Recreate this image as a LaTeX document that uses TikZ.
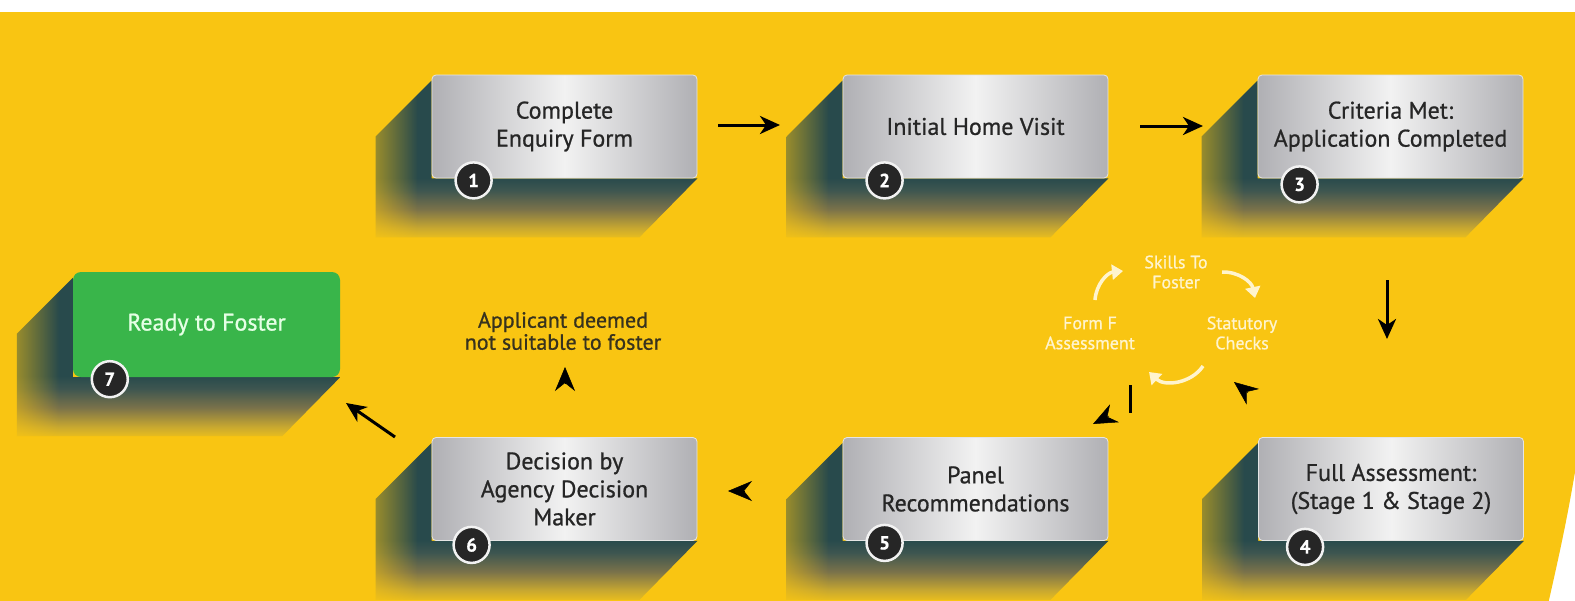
\documentclass[tikz,border=0pt]{standalone}
\usepackage{fontspec}
\setmainfont{PT Sans}[FakeBold=0.8]
\usetikzlibrary{arrows.meta,calc,fadings}
\definecolor{bgY}{RGB}{249,197,18}
\definecolor{shD}{RGB}{40,74,76}
\definecolor{shA}{RGB}{62,86,80}
\definecolor{shB}{RGB}{122,114,74}
\definecolor{shC}{RGB}{200,168,48}
\definecolor{shY}{RGB}{232,189,30}
\definecolor{boxedge}{RGB}{176,176,180}
\definecolor{boxmid}{RGB}{242,242,242}
\definecolor{greenbox}{RGB}{57,181,74}
\definecolor{txt}{RGB}{38,38,38}
\definecolor{cyc}{RGB}{255,244,205}
\definecolor{note}{RGB}{55,50,30}
\pgfdeclareverticalshading{shadowv}{100bp}{color(0bp)=(shY); color(25bp)=(shY); color(28bp)=(shC); color(34bp)=(shB); color(40bp)=(shA); color(44bp)=(shD); color(100bp)=(shD)}
\tikzfading[name=shfade, left color=transparent!45, right color=transparent!100]
\pgfdeclarelayer{back}
\pgfdeclarelayer{shad}
\pgfsetlayers{back,shad,main}
\newcommand\longshadow[1]{%
  \begin{pgfonlayer}{shad}
    \path (#1.north west) coordinate (#1nw) (#1.south east) coordinate (#1se) (#1.south west) coordinate (#1sw);
    \shade[shading=shadowv] ($(#1nw)+(0,6)$) -- ($(#1nw)+(-56,62)$) -- ($(#1sw)+(-56,59)$) -- ($(#1se)+(-58,59)$) -- (#1se) -- (#1sw) -- cycle;
    \fill[bgY, path fading=shfade] ($(#1nw)+(-57,0)$) rectangle ($(#1sw)+(-14,60)$);
  \end{pgfonlayer}}
\tikzset{
  graybox/.style={rectangle, rounded corners=4pt, minimum width=265pt, minimum height=103pt,
    left color=boxedge, right color=boxedge, middle color=boxmid, draw=white!80!gray, line width=0.8pt,
    align=center, text=txt, font=\fontsize{24}{28}\selectfont, inner sep=0pt},
  greenstep/.style={rectangle, rounded corners=8pt, minimum width=267pt, minimum height=105pt,
    fill=greenbox, align=center, text=white!90!green, font=\fontsize{24}{28}\selectfont, inner sep=0pt},
  badge/.style={circle, fill=black!85, draw=white!90!gray, line width=2.5pt, minimum size=36pt,
    inner sep=0pt, text=white, font=\fontsize{19}{19}\selectfont\bfseries},
  conn/.style={line width=3pt, black, -{Stealth[length=20pt,width=18pt,inset=6pt]}},
  headonly/.style={line width=0.5pt, black, -{Stealth[length=24pt,width=20pt,inset=8pt]}},
  cycarrow/.style={line width=3.5pt, cyc, -{Triangle[length=11pt,width=15pt]}},
  cyctext/.style={text=cyc, align=center, font=\fontsize{18}{20}\selectfont},
  notetext/.style={text=note, align=center, font=\fontsize{22}{22}\selectfont}
}
\begin{document}
\begin{tikzpicture}[x=1pt,y=-1pt]
\useasboundingbox (0,0) rectangle (1575,600);
\begin{pgfonlayer}{back}
  \fill[white] (-5,-5) rectangle (1580,605);
  \fill[bgY] (-5,12) -- (1590,12) -- (1590,440) -- (1575,472) .. controls (1566,525) and (1558,560) .. (1549,600) -- (1546,610) -- (-5,610) -- cycle;
\end{pgfonlayer}

% step boxes
\node[graybox] (b1) at (564.5,126.5) {Complete\\Enquiry Form};
\node[graybox] (b2) at (975.5,126.5) {Initial Home Visit};
\node[graybox] (b3) at (1390.5,126.5) {Criteria Met:\\Application Completed};
\node[graybox] (b4) at (1391,489) {Full Assessment:\\(Stage 1 \& Stage 2)};
\node[graybox] (b5) at (975.5,489) {Panel\\Recommendations};
\node[graybox] (b6) at (564.5,489) {Decision by\\Agency Decision\\Maker};
\node[greenstep] (b7) at (206.5,324.5) {Ready to Foster};

\longshadow{b1}\longshadow{b2}\longshadow{b3}\longshadow{b4}
\longshadow{b5}\longshadow{b6}\longshadow{b7}

% number badges
\node[badge] (n1) at ($(b1.south west)+(42,2)$) {1};
\node[badge] (n2) at ($(b2.south west)+(42,2)$) {2};
\node[badge] (n3) at ($(b3.south west)+(42,6)$) {3};
\node[badge] (n4) at ($(b4.south west)+(47,6)$) {4};
\node[badge] (n5) at ($(b5.south west)+(42,2)$) {5};
\node[badge] (n6) at ($(b6.south west)+(40,4)$) {6};
\node[badge] (n7) at ($(b7.south west)+(37,2)$) {7};

% note text
\node[notetext] (note) at (563,331) {Applicant deemed\\not suitable to foster};

% cycle
\node[cyctext] (c1) at (1176,272) {Skills To\\Foster};
\node[cyctext] (c2) at (1242,333) {Statutory\\Checks};
\node[cyctext] (c3) at (1090,333) {Form F\\Assessment};
\coordinate (ca1) at (1095,300);
\coordinate (ca2) at (1123,271);
\coordinate (cb1) at (1222,272);
\coordinate (cb2) at (1255,298);
\coordinate (cc1) at (1203,366);
\coordinate (cc2) at (1149,372);
\draw[cycarrow] (ca1) to[bend left=40] (ca2);
\draw[cycarrow] (cb1) to[bend left=40] (cb2);
\draw[cycarrow] (cc1) to[bend left=50] (cc2);

% connectors
\coordinate (a12s) at (718,125);
\coordinate (a12e) at (780,125);
\coordinate (a23s) at (1140,126);
\coordinate (a23e) at (1203,126);
\coordinate (a34s) at (1387,280);
\coordinate (a34e) at (1387,339);
\coordinate (a67s) at (395,437);
\coordinate (a67e) at (346,403);
\draw[conn] (a12s) -- (a12e);
\draw[conn] (a23s) -- (a23e);
\draw[conn] (a34s) -- (a34e);
\draw[conn] (a67s) -- (a67e);

% head-only arrows
\coordinate (h56s) at (744,491);
\coordinate (h56e) at (728,491);
\coordinate (hups) at (565,384);
\coordinate (hupe) at (565,367);
\coordinate (h4cs) at (1248,393);
\coordinate (h4ce) at (1234,382);
\coordinate (hc5s) at (1109,416);
\coordinate (hc5e) at (1093,424);
\draw[headonly] (h56s) -- (h56e);
\draw[headonly] (hups) -- (hupe);
\draw[headonly] (h4cs) -- (h4ce);
\draw[headonly] (hc5s) -- (hc5e);
\coordinate (vl1) at (1130,385);
\coordinate (vl2) at (1130,413);
\draw[line width=3pt, black] (vl1) -- (vl2);
\end{tikzpicture}
\end{document}
